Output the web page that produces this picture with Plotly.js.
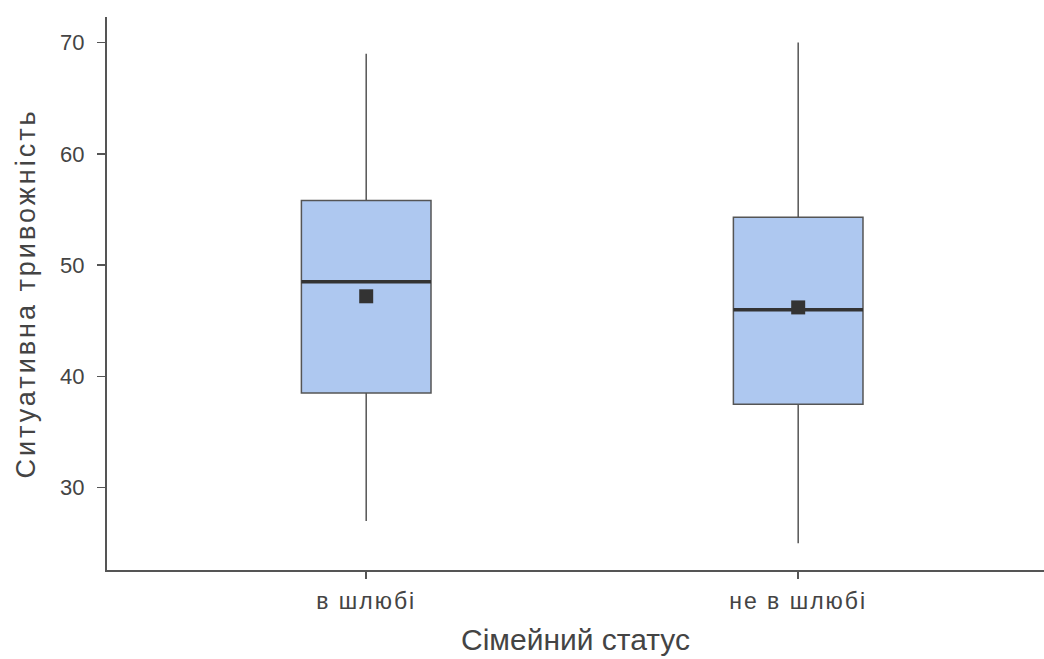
<!DOCTYPE html>
<html><head><meta charset="utf-8">
<script src="https://cdn.plot.ly/plotly-3.0.1.min.js"></script>
<style>html,body{margin:0;padding:0;background:#fff}#chart{width:1044px;height:659px}
.xtick text{letter-spacing:2px !important}
.g-ytitle text{letter-spacing:3px !important}
</style>
</head><body><div id="chart"></div>
<script>
const categories = ["в шлюбі", "не в шлюбі"];
const positions = [0, 1];
const q1Values = [38.5, 37.5];
const medianValues = [48.5, 46.0];
const q3Values = [55.8, 54.3];
const lowerWhisker = [27.0, 25.0];
const upperWhisker = [69.0, 70.0];
const meanValues = [47.2, 46.2];
const yTicks = [30, 40, 50, 60, 70];

const boxW = 0.3;
const traces = [];
positions.forEach((p, i) => {
  traces.push({
    type: 'box', x: [p], q1: [q1Values[i]], median: [medianValues[i]], q3: [q3Values[i]],
    lowerfence: [lowerWhisker[i]], upperfence: [upperWhisker[i]],
    width: boxW, whiskerwidth: 0, fillcolor: '#aec8f0',
    line: {color: '#555555', width: 1.5}, hoverinfo: 'skip', showlegend: false
  });
  traces.push({
    type: 'scatter', mode: 'lines', x: [p - boxW/2, p + boxW/2], y: [medianValues[i], medianValues[i]],
    line: {color: '#333333', width: 3.5}, hoverinfo: 'skip', showlegend: false
  });
});
traces.push({
  type: 'scatter', mode: 'markers', x: positions, y: meanValues,
  marker: {symbol: 'square', size: 14, color: '#333333'}, hoverinfo: 'skip', showlegend: false
});

const layout = {
  width: 1044, height: 659,
  margin: {l: 107, r: 0, t: 17, b: 89},
  paper_bgcolor: '#fff', plot_bgcolor: '#fff',
  font: {family: 'Liberation Sans, Arial, sans-serif', color: '#444'},
  showlegend: false,
  xaxis: {
    range: [-0.6, 1.569], tickvals: positions, ticktext: categories,
    showline: true, linecolor: '#555', linewidth: 2, showgrid: false, zeroline: false,
    ticks: 'outside', ticklen: 7, tickwidth: 1.5, tickcolor: '#555',
    ticklabelstandoff: 2,
    tickfont: {size: 23, color: '#444'},
    title: {text: 'Сімейний статус', font: {size: 30, color: '#444'}, standoff: 16}
  },
  yaxis: {
    range: [22.6, 72.3], tickvals: yTicks,
    showline: true, linecolor: '#555', linewidth: 2, showgrid: false, zeroline: false,
    ticks: 'outside', ticklen: 8, tickwidth: 1.5, tickcolor: '#555',
    ticklabelstandoff: 8,
    tickfont: {size: 22, color: '#444'},
    title: {text: 'Ситуативна тривожність', font: {size: 27, color: '#444'}, standoff: 17}
  }
};
Plotly.newPlot('chart', traces, layout, {staticPlot: true});
</script></body></html>
